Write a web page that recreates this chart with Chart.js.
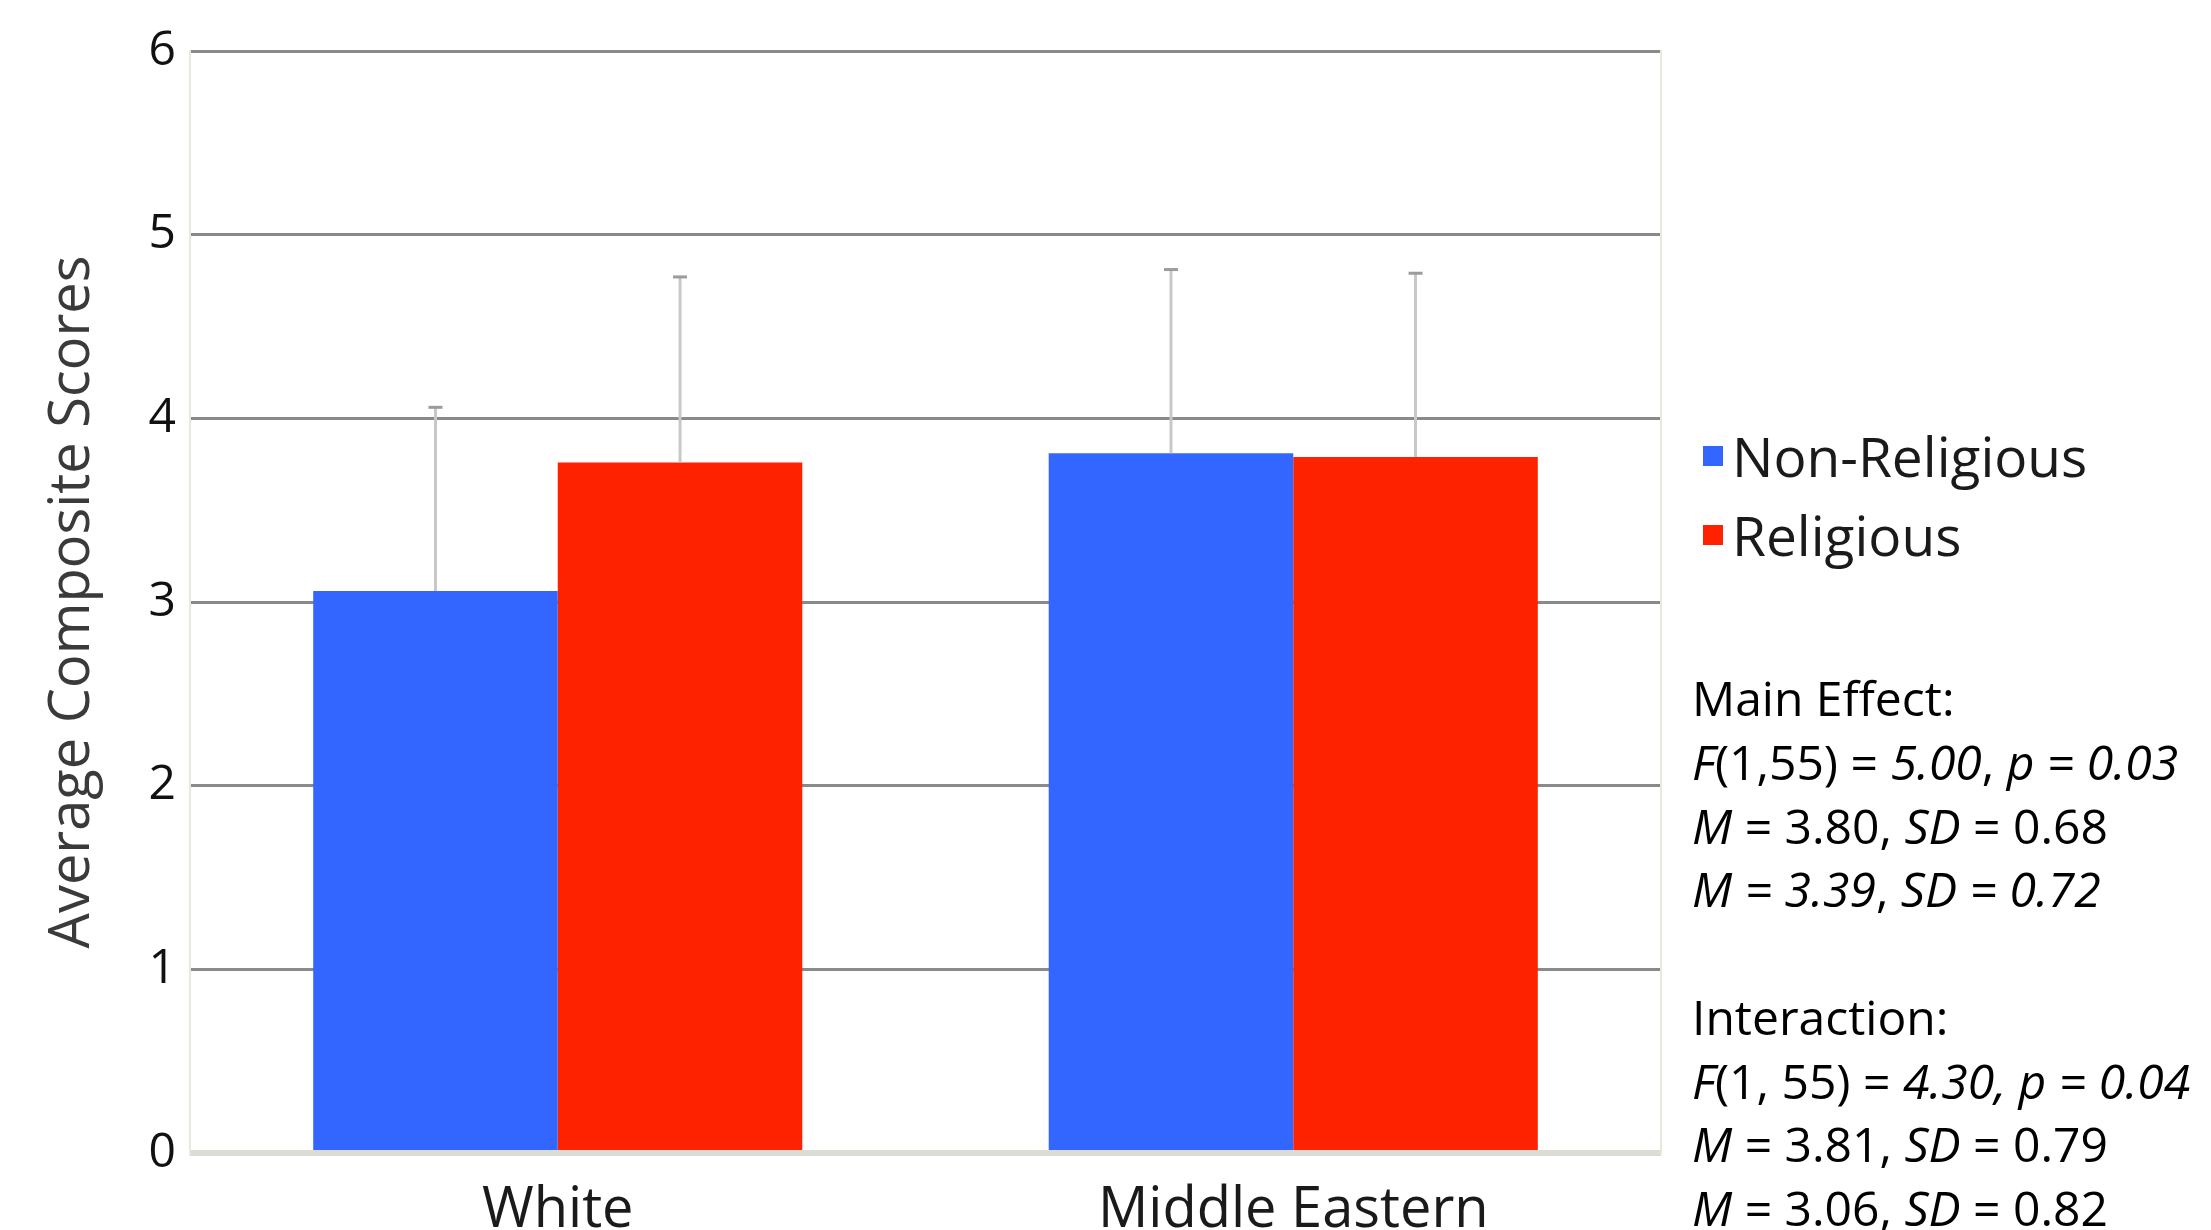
<!DOCTYPE html>
<html>
<head>
<meta charset="utf-8">
<title>Average Composite Scores</title>
<script src="https://cdn.jsdelivr.net/npm/chart.js@4.4.1/dist/chart.umd.min.js"></script>
<style>
    html, body { margin: 0; padding: 0; background: #fff; overflow: hidden; }
    #wrap { position: relative; width: 2211px; height: 1230px; }
    #scoreChart { position: absolute; left: 0; top: 0; }
    .legend-row { position: absolute; left: 1703px; height: 80px; line-height: 80px;
                  font-family: 'Open Sans', sans-serif; font-size: 55px; color: #1a1a1a; white-space: nowrap; }
    .legend-box { position: absolute; left: 0; top: 30px; width: 20px; height: 20px; }
    .legend-text { position: absolute; left: 29px; top: 0; }
    #stats { position: absolute; left: 1692px; top: 666px; font-family: 'Open Sans', sans-serif;
             font-size: 48px; line-height: 63.75px; color: #000; white-space: nowrap; }
    #stats div { height: 63.75px; }
</style>
</head>
<body>
<div id="wrap">
    <canvas id="scoreChart" width="2211" height="1230"></canvas>
    <div id="legend"></div>
    <div id="stats">
        <div>Main Effect:</div>
        <div><i>F</i>(1,55) = <i>5.00</i>, <i>p = 0.03</i></div>
        <div><i>M</i> = 3.80, <i>SD</i> = 0.68</div>
        <div><i>M = 3.39</i>, <i>SD = 0.72</i></div>
        <div></div>
        <div>Interaction:</div>
        <div><i>F</i>(1, 55) = <i>4.30, p = 0.04</i></div>
        <div><i>M</i> = 3.81, <i>SD</i> = 0.79</div>
        <div><i>M</i> = 3.06, <i>SD</i> = 0.82</div>
    </div>
</div>
<script>
// 데이터
const categories = ['White', 'Middle Eastern'];
const seriesNames = ['Non-Religious', 'Religious'];
const nonReligious = [3.06, 3.81];
const religious = [3.76, 3.79];
const nonReligiousErr = [1.00, 1.00];
const religiousErr = [1.01, 1.00];
const yTicks = [0, 1, 2, 3, 4, 5, 6];
const seriesColors = ['#3366ff', '#ff2200'];

let scoreChart = null;

// upper error bars, drawn from the bar top
const errorBarPlugin = {
    id: 'errorBars',
    afterDatasetsDraw(chart) {
        const ctx = chart.ctx;
        const yScale = chart.scales.y;
        chart.data.datasets.forEach((ds, i) => {
            const meta = chart.getDatasetMeta(i);
            meta.data.forEach((bar, j) => {
                const top = yScale.getPixelForValue(ds.data[j] + ds.errorPlus[j]);
                ctx.save();
                ctx.lineWidth = 3;
                ctx.strokeStyle = '#c8c8c8';
                ctx.beginPath();
                ctx.moveTo(bar.x, bar.y);
                ctx.lineTo(bar.x, top);
                ctx.stroke();
                ctx.strokeStyle = '#9c9c9c';
                ctx.beginPath();
                ctx.moveTo(bar.x - 7, top);
                ctx.lineTo(bar.x + 7, top);
                ctx.stroke();
                ctx.restore();
            });
        });
    }
};

function initializeChart() {
    const errors = [nonReligiousErr, religiousErr];
    const datasets = [nonReligious, religious].map((values, i) => ({
        label: seriesNames[i],
        data: values,
        errorPlus: errors[i],
        backgroundColor: seriesColors[i],
        borderWidth: 0,
        categoryPercentage: 0.665,
        barPercentage: 1.0
    }));

    scoreChart = new Chart(document.getElementById('scoreChart'), {
        type: 'bar',
        data: { labels: categories, datasets: datasets },
        options: {
            responsive: false,
            animation: false,
            devicePixelRatio: 1,
            layout: { padding: { top: 51, right: 550, left: 0, bottom: 0 } },
            plugins: {
                legend: { display: false },
                tooltip: { enabled: false }
            },
            scales: {
                x: {
                    grid: { display: false },
                    border: { display: false },
                    ticks: {
                        color: '#1a1a1a',
                        padding: 16,
                        font: { family: 'Open Sans', size: 56 }
                    },
                    afterFit(scale) { scale.height = 77; }
                },
                y: {
                    min: 0,
                    max: 6,
                    afterBuildTicks(scale) { scale.ticks = yTicks.map(v => ({ value: v })); },
                    ticks: {
                        padding: 14,
                        color: '#111',
                        font: { family: 'Open Sans', size: 48 }
                    },
                    grid: {
                        drawTicks: false,
                        color: c => c.tick && c.tick.value === 0 ? '#dcdcd4' : '#8a8a8a',
                        lineWidth: c => c.tick && c.tick.value === 0 ? 6 : 3
                    },
                    border: { display: true, color: '#e8e8de', width: 2 },
                    title: {
                        display: true,
                        text: 'Average Composite Scores',
                        color: '#3a3a3a',
                        font: { family: 'Open Sans', size: 56 },
                        padding: { top: 39, bottom: 0 }
                    },
                    afterFit(scale) { scale.width = 190; }
                },
                yRight: {
                    position: 'right',
                    min: 0,
                    max: 6,
                    ticks: { display: false },
                    grid: { display: false, drawTicks: false },
                    border: { display: true, color: '#e8e8de', width: 2 },
                    afterFit(scale) { scale.width = 0; }
                }
            }
        },
        plugins: [errorBarPlugin]
    });
}

// legend from the datasets
function renderLegend() {
    const legend = document.getElementById('legend');
    const rowTops = [416, 495];
    scoreChart.data.datasets.forEach((ds, i) => {
        const row = document.createElement('div');
        row.className = 'legend-row';
        row.style.top = rowTops[i] + 'px';
        row.innerHTML = `<span class="legend-box" style="background:${ds.backgroundColor}"></span>`
            + `<span class="legend-text">${ds.label}</span>`;
        legend.appendChild(row);
    });
}

initializeChart();
renderLegend();
</script>
</body>
</html>
